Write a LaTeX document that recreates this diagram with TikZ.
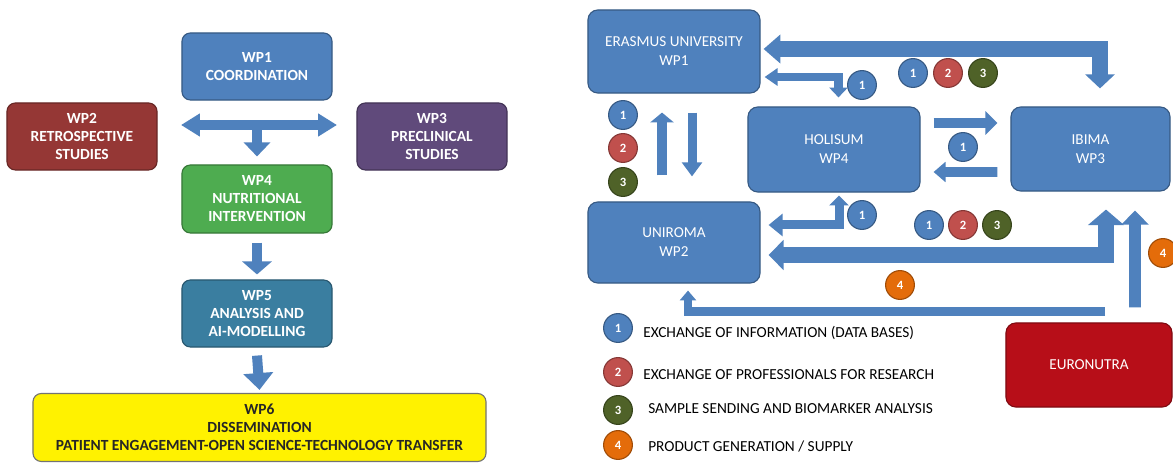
\documentclass[tikz,border=0pt]{standalone}
\usepackage{fontspec}
\setmainfont{Carlito}
\usetikzlibrary{arrows.meta}

\definecolor{boxblue}{RGB}{79,129,189}
\definecolor{wptwo}{RGB}{149,55,53}
\definecolor{wpthree}{RGB}{96,74,123}
\definecolor{wpfour}{RGB}{78,172,80}
\definecolor{wpfive}{RGB}{58,126,160}
\definecolor{badgered}{RGB}{192,80,77}
\definecolor{badgegreen}{RGB}{79,98,40}
\definecolor{badgeorange}{RGB}{228,108,10}
\definecolor{eurored}{RGB}{183,14,24}

\tikzset{
  wpbox/.style={rounded corners=6pt, fill=#1, draw=#1!70!black, line width=0.8pt,
    text=white, align=center, inner sep=0pt, minimum width=3.75cm, minimum height=1.675cm,
    font=\bfseries\fontsize{11}{12.8}\selectfont},
  partner/.style={rounded corners=7pt, fill=boxblue, draw=boxblue!70!black, line width=0.8pt,
    text=white, align=center, inner sep=0pt, minimum width=4.3cm,
    font=\fontsize{10.8}{13.5}\selectfont},
  flow/.style={draw=boxblue, line width=#1},
  badge/.style={circle, fill=#1, draw=#1!70!black, line width=0.8pt, inner sep=0pt,
    minimum size=0.72cm, text=white, font=\bfseries\fontsize{9}{9}\selectfont},
  legend/.style={anchor=west, inner sep=0pt, text=black, font=\fontsize{10.9}{12}\selectfont}
}

\begin{document}
\begin{tikzpicture}[x=0.025cm, y=-0.025cm]
\fill[white] (0,0) rectangle (1173,464);
\useasboundingbox (0,0) rectangle (1173,464);

% work packages
\node[wpbox=boxblue] (wp1) at (257,66.5) {WP1\\COORDINATION};
\node[wpbox=wptwo] (wp2) at (82,136.5) {WP2\\RETROSPECTIVE\\STUDIES};
\node[wpbox=wpthree] (wp3) at (432,136.5) {WP3\\PRECLINICAL\\STUDIES};
\node[wpbox=wpfour, minimum height=1.7cm] (wp4) at (257,199) {WP4\\NUTRITIONAL\\INTERVENTION};
\node[wpbox=wpfive] (wp5) at (257,313.5) {WP5\\ANALYSIS AND\\AI-MODELLING};
\node[wpbox=yellow, draw=black!55, text=black!85, minimum width=11.325cm, minimum height=1.7cm] (wp6) at (259.5,427.5)
  {WP6\\DISSEMINATION\\PATIENT ENGAGEMENT-OPEN SCIENCE-TECHNOLOGY TRANSFER};

\coordinate (hl) at (181,125);
\coordinate (hr) at (337,125);
\coordinate (hm) at (257,125);
\draw[flow=7.1pt, {Triangle[length=13.5pt,width=15.6pt]}-{Triangle[length=13.5pt,width=15.6pt]}] (hl) -- (hr); %wp2 <-> wp3
\draw[flow=7.1pt, -{Triangle[length=10pt,width=18.5pt]}] (hm) -- ([shift={(0,-8)}]wp4.north);
\draw[flow=7.1pt, -{Triangle[length=9.2pt,width=20.6pt]}] ([shift={(0,9)}]wp4.south) -- ([shift={(0,-5)}]wp5.north);
\draw[flow=7.1pt, -{Triangle[length=12pt,width=20.6pt]}] ([shift={(0,8)}]wp5.south) -- ([shift={(0,-3)}]wp6.north);

% partners
\node[partner, minimum height=2.075cm] (erasmus) at (674,51.5) {ERASMUS UNIVERSITY\\WP1};
\node[partner, minimum height=2.125cm] (holisum) at (834,149.5) {HOLISUM\\WP4};
\node[partner, minimum width=3.975cm, minimum height=2.1cm] (ibima) at (1090.5,149) {IBIMA\\WP3};
\node[partner, minimum height=2.025cm] (uniroma) at (674,242.5) {UNIROMA\\WP2};
\node[partner, fill=eurored, draw=eurored!70!black, minimum width=4.15cm, minimum height=2.1cm] (euronutra) at (1089,365) {EURONUTRA};

\draw[flow=10.7pt, {Triangle[length=12pt,width=20pt]}-{Triangle[length=10pt,width=20.6pt]}]
  ([shift={(3,-2.5)}]erasmus.east) -| ([shift={(9.5,-18)}]ibima.north); %erasmus <-> ibima
\draw[flow=5.7pt, {Triangle[length=9.2pt,width=12pt]}-{Triangle[length=7pt,width=12.8pt]}]
  ([shift={(4,25.5)}]erasmus.east) -| ([shift={(4.5,-9)}]holisum.north); %erasmus <-> holisum
\draw[flow=7.1pt, -{Triangle[length=7pt,width=16.4pt]}] ([shift={(-12,-26)}]uniroma.north) -- ([shift={(-12,19)}]erasmus.south);
\draw[flow=6.4pt, -{Triangle[length=10pt,width=14pt]}] ([shift={(18,19)}]erasmus.south) -- ([shift={(18,-25)}]uniroma.north);
\draw[flow=7.1pt, -{Triangle[length=8.5pt,width=16.4pt]}] ([shift={(13,-26.5)}]holisum.east) -- ([shift={(-13,-26)}]ibima.west);
\draw[flow=7.1pt, -{Triangle[length=8.5pt,width=14pt]}] ([shift={(-13,23)}]ibima.west) -- ([shift={(13,22.5)}]holisum.east);
\draw[flow=6.4pt, {Triangle[length=10pt,width=15.6pt]}-{Triangle[length=7pt,width=13.5pt]}]
  ([shift={(8,-17.5)}]uniroma.east) -| ([shift={(5,3)}]holisum.south); %uniroma <-> holisum
\draw[flow=10.7pt, {Triangle[length=10.7pt,width=21pt]}-{Triangle[length=11pt,width=25pt]}]
  ([shift={(8,12.5)}]uniroma.east) -| ([shift={(15.5,18)}]ibima.south); %uniroma <-> ibima
\draw[flow=8.5pt, -{Triangle[length=10pt,width=19pt]}] ([shift={(46,-15)}]euronutra.north) -- ([shift={(44.5,19)}]ibima.south);
\draw[flow=6pt, -{Triangle[length=7pt,width=11.4pt]}] ([shift={(16,-11)}]euronutra.north) -| ([shift={(14,7)}]uniroma.south);

% exchange badges
\node[badge=boxblue] (top1) at (913,73) {1};
\node[badge=badgered] (top2) at (948,73) {2};
\node[badge=badgegreen] (top3) at (983,73) {3};
\node[badge=boxblue] (eh1) at (862,85) {1};
\node[badge=boxblue] (col1) at (623,115) {1};
\node[badge=badgered] (col2) at (623,148) {2};
\node[badge=badgegreen] (col3) at (623,182) {3};
\node[badge=boxblue] (hi1) at (963,147) {1};
\node[badge=boxblue] (uh1) at (862,215) {1};
\node[badge=boxblue] (mid1) at (929,225) {1};
\node[badge=badgered] (mid2) at (963,225) {2};
\node[badge=badgegreen] (mid3) at (997,225) {3};
\node[badge=badgeorange] (low4) at (900,285) {4};
\node[badge=badgeorange] (side4) at (1163,253) {4};

% legend
\node[badge=boxblue] (key1) at (618,328) {1};
\node[badge=badgered] (key2) at (618,372) {2};
\node[badge=badgegreen] (key3) at (618,410) {3};
\node[badge=badgeorange] (key4) at (618,445) {4};
\node[legend] (txt1) at (643,333) {EXCHANGE OF INFORMATION (DATA BASES)};
\node[legend] (txt2) at (643,375) {EXCHANGE OF PROFESSIONALS FOR RESEARCH};
\node[legend] (txt3) at (648,409) {SAMPLE SENDING AND BIOMARKER ANALYSIS};
\node[legend] (txt4) at (648,447) {PRODUCT GENERATION / SUPPLY};
\end{tikzpicture}
\end{document}
